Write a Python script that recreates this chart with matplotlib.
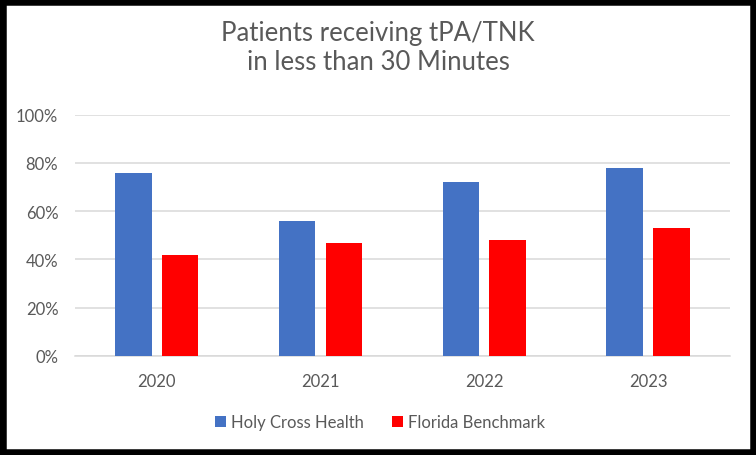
import matplotlib
matplotlib.use('Agg')
import matplotlib.pyplot as plt
import matplotlib.patches as patches
import numpy as np

# data
years = ['2020', '2021', '2022', '2023']
holy_cross = [0.76, 0.56, 0.72, 0.78]
florida = [0.42, 0.47, 0.48, 0.53]

blue = '#4472C4'
red = '#FF0000'
grey = '#595959'

plt.rcParams['font.family'] = ['Lato', 'DejaVu Sans']

fig = plt.figure(figsize=(7.56, 4.56), dpi=100)
ax = fig.add_axes([75/756, 99/456, 655/756, 241.3/456])

x = np.arange(len(years))
w = 0.223
ax.bar(x - 0.1435, holy_cross, w, color=blue, label='Holy Cross Health', zorder=3)
ax.bar(x + 0.142, florida, w, color=red, label='Florida Benchmark', zorder=3)

ax.set_xlim(-0.5, len(years) - 0.5)
ax.set_ylim(0, 1)
ax.set_yticks(np.arange(0, 1.01, 0.2))
ax.set_yticklabels(['%d%%' % round(v * 100) for v in np.arange(0, 1.01, 0.2)])
ax.set_xticks(x)
ax.set_xticklabels(years)
ax.yaxis.grid(True, color='#D9D9D9', linewidth=1.1, zorder=0)
for s in ['top', 'right', 'left']:
    ax.spines[s].set_visible(False)
ax.spines['bottom'].set_color('#D9D9D9')
ax.spines['bottom'].set_linewidth(1.1)
ax.tick_params(axis='both', length=0, colors=grey, labelsize=12)
ax.tick_params(axis='y', pad=12)
ax.tick_params(axis='x', pad=12)

fig.text(0.5, 1 - 47.5/456, 'Patients receiving tPA/TNK\nin less than 30 Minutes',
         ha='center', va='center', fontsize=18.5, color=grey, linespacing=1.2)

ax.legend(loc='center', bbox_to_anchor=(380/756, 1 - 423/456), bbox_transform=fig.transFigure,
          ncol=2, frameon=False, fontsize=12, labelcolor=grey,
          handlelength=0.66, handleheight=0.66, handletextpad=0.3, columnspacing=1.7)

fig.patches.append(patches.Rectangle((0, 0), 1, 1, transform=fig.transFigure,
                                     fill=False, edgecolor='black', linewidth=9))

fig.savefig('out.png', dpi=100)
